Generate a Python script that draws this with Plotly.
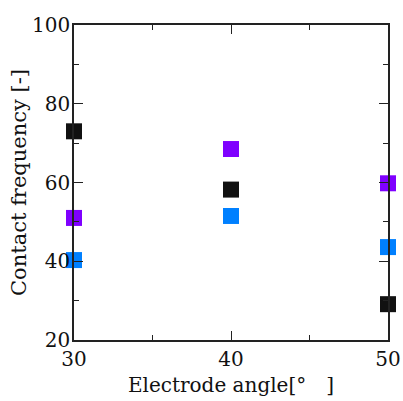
import plotly.graph_objects as go

angles = [30, 40, 50]
black_vals = [73.0, 58.2, 29.1]
purple_vals = [51.0, 68.5, 59.8]
blue_vals = [40.3, 51.5, 43.6]

series = [
    ("black", black_vals, "#111111"),
    ("purple", purple_vals, "#7f00ff"),
    ("blue", blue_vals, "#0080ff"),
]

fig = go.Figure()
for name, vals, col in series:
    fig.add_trace(go.Scatter(
        x=angles, y=vals, mode="markers", name=name, cliponaxis=False,
        marker=dict(symbol="square", size=16, color=col, line=dict(width=0)),
    ))

fam = "DejaVu Serif"
axis_common = dict(
    showline=True, linecolor="#222222", linewidth=1.5, mirror="ticks",
    ticks="inside", ticklen=9, tickwidth=1.2, tickcolor="#222222",
    showgrid=False, zeroline=False, automargin=False,
    tickfont=dict(family=fam, size=20, color="#111111"),
)

fig.update_layout(
    width=403, height=401,
    margin=dict(l=74, r=15, t=25, b=61),
    paper_bgcolor="white", plot_bgcolor="white",
    showlegend=False,
    xaxis=dict(
        range=[30, 50], dtick=10, tick0=30,
        minor=dict(dtick=5, ticks="inside", ticklen=5, tickcolor="#222222", tickwidth=1.2),
        title=dict(text="Electrode angle[°\u2003]", font=dict(family=fam, size=20, color="#111111"), standoff=8),
        **axis_common,
    ),
    yaxis=dict(
        range=[20, 100], dtick=20, tick0=20,
        ticklabelstandoff=-2,
        minor=dict(dtick=10, ticks="inside", ticklen=5, tickcolor="#222222", tickwidth=1.2),
        title=dict(text="Contact frequency [-]", font=dict(family=fam, size=21, color="#111111"), standoff=0),
        **axis_common,
    ),
)

fig.write_html("out.html")
